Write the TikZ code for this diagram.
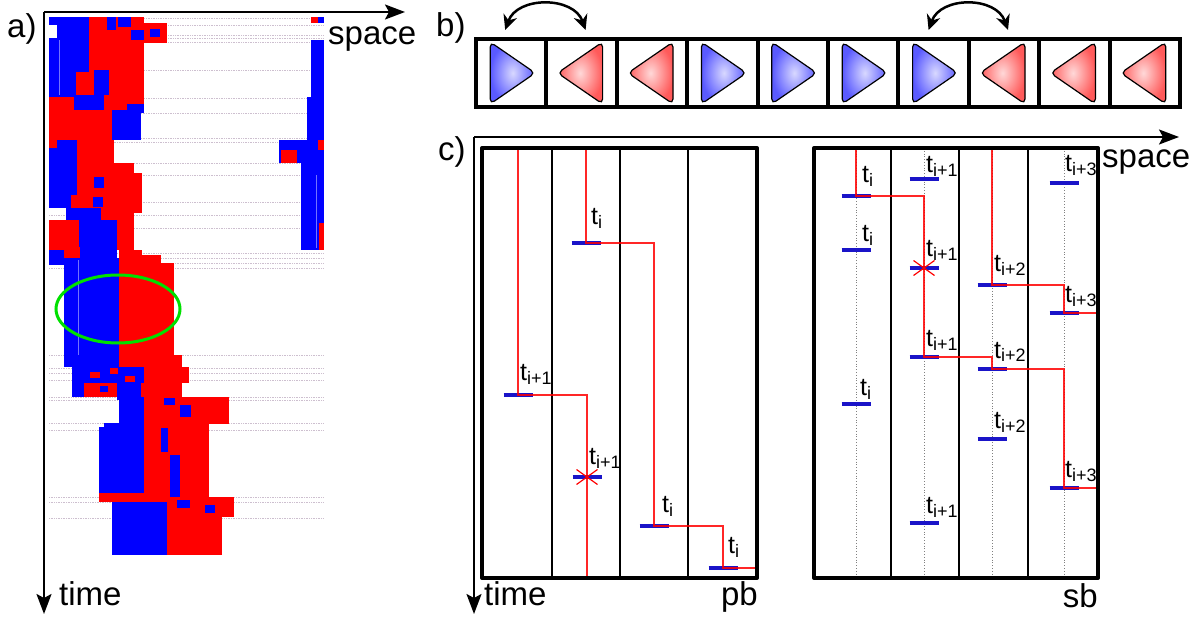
\documentclass[tikz,border=0pt]{standalone}
\usepackage{fontspec}
\setmainfont{Liberation Sans}
\usepackage{xcolor}
\definecolor{simBlue}{HTML}{0000FF}
\definecolor{simRed}{HTML}{FF0000}
\definecolor{simGreen}{HTML}{00E000}
\definecolor{stampBlue}{HTML}{1A14C8}
\definecolor{noiseGray}{HTML}{CDBFCF}
\definecolor{triBlueIn}{HTML}{D8D8FF}
\definecolor{triBlueOut}{HTML}{5A5AFF}
\definecolor{triRedIn}{HTML}{FFD8D8}
\definecolor{triRedOut}{HTML}{FF5A5A}
\usetikzlibrary{arrows.meta,positioning,calc}
\tikzset{
    axisarrow/.style={
        line width=2pt,
        -{Stealth[length=20pt,width=15pt,inset=4pt]}
    },
    panel/.style={
        font=\fontsize{33}{38}\selectfont,
        inner sep=0pt
    },
    cell/.style={
        draw,
        rectangle,
        line width=4pt,
        minimum width=70.4pt,
        minimum height=68pt,
        inner sep=0pt,
        outer sep=0pt
    },
    flip/.style={
        line width=2.5pt,
        {Stealth[length=15pt,width=14pt]}-{Stealth[length=15pt,width=14pt]}
    },
    boxframe/.style={line width=4pt, line join=round},
    lane/.style={line width=1.2pt},
    lanedot/.style={line width=0.8pt, dotted, gray},
    world/.style={line width=1.3pt, simRed, opacity=0.85},
    stamp/.style={line width=3.5pt, stampBlue},
    clash/.style={line width=1.2pt, simRed},
    tlabel/.style={
        font=\fontsize{25}{28}\selectfont,
        inner sep=0pt,
        anchor=base west
    },
    ring/.style={line width=3pt, simGreen},
    noise/.style={line width=0.7pt, noiseGray, densely dotted}
}
\newcommand{\tsub}[1]{t\raisebox{-4pt}{\fontsize{18}{18}\selectfont #1}}

\begin{document}
\begin{tikzpicture}[x=1pt, y=-1pt]
    \useasboundingbox (0,0) rectangle (1204,617);

    % a) space-time picture
    \foreach \y in {18,25,35,38,42,70,98,113,138,142,163,175,202,215,228,
                    253,258,263,268,355,368,373,380,397,400,423,430,497,502,518}
        \draw[noise] (49,\y) -- (324,\y);
    \foreach \c/\xa/\ya/\xb/\yb in {
        simBlue/49/17/89/97, white/49/25/57/38, simRed/89/17/144/97,
        simBlue/107/17/116/30, simBlue/118/17/131/27, simRed/144/23/167/43,
        simBlue/150/29/160/37, simBlue/131/30/144/40, simRed/76/72/94/97,
        simBlue/94/70/109/97, simRed/49/97/74/140, simRed/104/95/144/110,
        simBlue/74/95/104/110, simBlue/127/104/144/113, simRed/74/110/112/140,
        simBlue/112/110/141/140,
        simRed/311/17/318/23, simBlue/318/17/324/23, simBlue/311/40/324/140,
        simBlue/307/97/311/140, simBlue/279/140/324/163, simRed/281/150/297/163,
        simRed/318/140/324/150, simBlue/301/163/324/250, simRed/319/223/324/250,
        simBlue/49/140/77/208, simRed/49/140/57/148, simRed/77/140/114/163,
        simRed/77/163/134/173, simRed/77/173/142/213, simBlue/94/177/104/188,
        simBlue/93/197/103/207, simRed/71/195/87/208, simRed/101/208/134/222,
        simBlue/66/208/101/222, simRed/49/220/79/250, simBlue/79/220/117/258,
        simRed/117/213/134/250, simBlue/49/250/64/265, simRed/64/247/80/258,
        simBlue/64/258/119/357, simRed/119/250/142/357, simRed/142/255/161/357,
        simRed/161/263/174/357,
        simBlue/64/355/119/367, simRed/119/355/182/367, simBlue/72/367/144/383,
        simRed/144/367/189/383, simRed/90/372/100/378, simRed/110/368/118/374,
        simRed/125/376/135/382, simBlue/72/383/84/397, simRed/84/383/141/397,
        simBlue/100/386/108/392, simBlue/117/383/144/400, simRed/141/383/182/397,
        simBlue/119/397/144/427, simRed/144/397/229/424, simBlue/164/398/175/405,
        simBlue/180/405/191/417, simBlue/104/423/144/430, simRed/144/424/209/497,
        simBlue/99/427/144/497, simBlue/161/428/168/452, simBlue/170/455/180/497,
        simRed/144/497/234/517, simRed/99/493/144/502, simBlue/112/502/167/555,
        simRed/167/517/222/555, simBlue/177/500/190/508, simBlue/205/505/215/513}
        \fill[\c] (\xa,\ya) rectangle (\xb,\yb);
    \draw[simBlue!55!white, line width=0.6pt] (59,40) -- (59,95) (78,260) -- (78,355) (316,175) -- (316,248);
    \draw[ring] (118,309) ellipse [x radius=62, y radius=34];

    % a) axes
    \coordinate (aO) at (44,12);
    \coordinate (aX) at (405,12);
    \coordinate (aT) at (44,614);
    \draw[axisarrow] (aO) -- (aX);
    \draw[axisarrow] (aO) -- (aT);
    \node[panel, anchor=base west] (la) at (7,38) {a)};
    \node[panel, anchor=base west] (spaceA) at (328,45) {space};
    \node[panel, anchor=base west] (timeA) at (59,605) {time};

    % b) row of cells
    \node[panel, anchor=base west] (lb) at (436,37) {b)};
    \node[cell] (c1) at (511.2,73) {};
    \foreach \i [remember=\i as \j (initially 1)] in {2,...,10}
        \node[cell, right=0pt of c\j] (c\i) {};
    \foreach \i in {1,4,5,6,7}
        \shadedraw[line width=1.2pt, rounded corners=5pt, shading=radial,
                   inner color=triBlueIn, outer color=triBlueOut]
            ($(c\i)+(-21,-31)$) -- ($(c\i)+(24,0)$) -- ($(c\i)+(-21,31)$) -- cycle;
    \foreach \i in {2,3,8,9,10}
        \shadedraw[line width=1.2pt, rounded corners=5pt, shading=radial,
                   inner color=triRedIn, outer color=triRedOut]
            ($(c\i)+(21,-31)$) -- ($(c\i)+(-24,0)$) -- ($(c\i)+(21,31)$) -- cycle;
    \draw[flip] ($(c1.north)+(-6,-9)$) .. controls +(12,-34) and +(-12,-34) .. ($(c2.north)+(4,-9)$);
    \draw[flip] ($(c7.north)+(-5,-9)$) .. controls +(12,-34) and +(-12,-34) .. ($(c8.north)+(4,-9)$);

    % c) axes
    \node[panel, anchor=base west] (lc) at (438,161) {c)};
    \coordinate (cO) at (474,137);
    \coordinate (cX) at (1179,137);
    \coordinate (cT) at (474,614);
    \draw[axisarrow] (cO) -- (cX);
    \draw[axisarrow] (cO) -- (cT);
    \node[panel, anchor=base west] (spaceC) at (1102,168) {space};
    \node[panel, anchor=base west] (timeC) at (484,605) {time};

    % c) lanes and boxes
    \foreach \x in {552,620,688,891,959,1028}
        \draw[lane] (\x,148) -- (\x,578);
    \foreach \x in {856,924,992,1064}
        \draw[lanedot] (\x,148) -- (\x,578);
    \draw[boxframe] (482,148) rectangle (757,578);
    \draw[boxframe] (814,148) rectangle (1098,578);
    \node[panel, anchor=base east] (pbName) at (758,605) {pb};
    \node[panel, anchor=base east] (sbName) at (1098,607) {sb};

    % c) time stamps
    \foreach \m/\x/\y/\s/\dx/\dy in {
        p1/586/243/i/5/18, p2/518/395/i+1/2/15, p3/587/477/i+1/2/13,
        p4/654/526/i/8/14, p5/723/568/i/5/15,
        s1/856/196/i/6/13, s2/856/250/i/6/8, s3/856/404/i/4/9,
        s4/924/179/i+1/2/6, s5/924/268/i+1/2/11, s6/924/357/i+1/2/10,
        s7/924/523/i+1/2/10, s8/992/285/i+2/2/13, s9/992/369/i+2/2/11,
        s10/992/439/i+2/2/11, s11/1064/183/i+3/1/11, s12/1064/313/i+3/1/10,
        s13/1064/488/i+3/1/11}{
        \coordinate (\m) at (\x,\y);
        \draw[stamp] (\x-14.5,\y) -- (\x+14.5,\y);
        \node[tlabel] (\m-t) at (\x+\dx,\y-\dy) {\tsub{\s}};
    }

    % c) world lines
    \coordinate (pbTop1) at (518,150);
    \coordinate (pbTop2) at (586,150);
    \coordinate (pbEnd1) at (587,576);
    \coordinate (pbEnd2) at (755,568);
    \coordinate (sbTop1) at (856,150);
    \coordinate (sbTop2) at (992,150);
    \coordinate (sbEnd1) at (1096,488);
    \coordinate (sbEnd2) at (1096,313);
    \draw[world] (pbTop1) -- (p2) -| (p3) -- (pbEnd1);
    \draw[world] (pbTop2) -- (p1) -| (p4) -| (p5) -- (pbEnd2);
    \draw[world] (sbTop1) -- (s1) -| (s6) -| (s9) -| (s13) -- (sbEnd1);
    \draw[world] (sbTop2) -- (s8) -| (s12) -- (sbEnd2);
    \foreach \m in {p3,s5}
        \draw[clash] ($(\m)+(-10.5,-7.5)$) -- ($(\m)+(10.5,7.5)$)
                     ($(\m)+(-10.5,7.5)$) -- ($(\m)+(10.5,-7.5)$);
\end{tikzpicture}
\end{document}
